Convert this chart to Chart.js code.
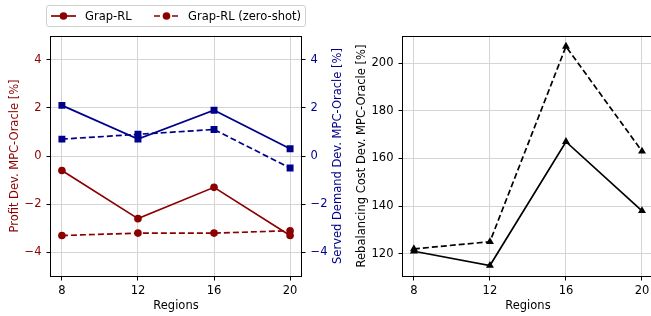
<!DOCTYPE html>
<html>
<head>
<meta charset="utf-8">
<script src="https://cdn.jsdelivr.net/npm/chart.js@4.4.0/dist/chart.umd.min.js"></script>
<style>
  html, body { margin: 0; padding: 0; background: #fff; }
  body { width: 651px; height: 316px; overflow: hidden; position: relative; font-family: "DejaVu Sans", sans-serif; }
  #left { position: absolute; left: 0; top: 0; }
  #right { position: absolute; left: 345px; top: 0; }
  .legend { position: absolute; left: 46px; top: 5px; width: 258px; height: 20px; border: 1px solid #d0d0d0; border-radius: 3px; background: rgba(255,255,255,0.8); font-size: 11.5px; color: #000; z-index: 2; }
  .legend .item { position: absolute; top: 0; height: 20px; line-height: 20px; white-space: nowrap; }
  .legend svg { position: absolute; top: 5px; }
</style>
</head>
<body>
<canvas id="left" width="345" height="316"></canvas>
<canvas id="right" width="330" height="316"></canvas>
<div class="legend">
  <svg style="left:4px" width="25" height="10"><line x1="0" y1="5" x2="25" y2="5" stroke="#8b0000" stroke-width="1.7"/><circle cx="12.5" cy="5" r="3.8" fill="#8b0000"/></svg>
  <span class="item" style="left:38px">Grap-RL</span>
  <svg style="left:107px" width="25" height="10"><line x1="0" y1="5" x2="25" y2="5" stroke="#8b0000" stroke-width="1.7" stroke-dasharray="6,3"/><circle cx="12.5" cy="5" r="3.8" fill="#8b0000"/></svg>
  <span class="item" style="left:141px">Grap-RL (zero-shot)</span>
</div>
<script>
// ---- data ----
const regions = [8, 12, 16, 20];
const profitRL = [-0.6, -2.6, -1.3, -3.3];
const profitZS = [-3.3, -3.2, -3.2, -3.1];
const servedRL = [2.1, 0.7, 1.9, 0.3];
const servedZS = [0.7, 0.9, 1.1, -0.5];
const rebalRL = [121, 115, 167, 138];
const rebalZS = [122, 125, 207, 163];
const regionTicks = [8, 12, 16, 20];
const devTicks = [-4, -2, 0, 2, 4];
const rebalTicks = [120, 140, 160, 180, 200];

const RED = '#8b0000';
const BLUE = '#00008b';
const FONT = { family: '"DejaVu Sans", sans-serif', size: 11.5 };
const GRID = '#d4d4d4';

const pts = arr => regions.map((x, i) => ({ x, y: arr[i] }));
const minus = v => String(v).replace('-', '\u2212');
const fixTicks = list => s => { s.ticks = list.map(v => ({ value: v })); };

function series(label, arr, color, style, dashed, r) {
  return {
    label, data: pts(arr),
    borderColor: color, backgroundColor: color,
    borderWidth: 1.7, borderDash: dashed ? [6, 3] : [],
    pointStyle: style, pointRadius: r, pointHoverRadius: r,
    pointBorderWidth: 0, tension: 0
  };
}

// black frame around the plot area (matplotlib spines)
const frame = {
  id: 'frame',
  afterDatasetsDraw(chart) {
    const a = chart.chartArea, ctx = chart.ctx;
    ctx.save();
    ctx.strokeStyle = '#000';
    ctx.lineWidth = 1;
    ctx.strokeRect(Math.round(a.left) - 0.5, Math.round(a.top) + 0.5,
      Math.round(a.right - a.left), Math.round(a.bottom - a.top) - 1);
    ctx.restore();
  }
};

// right-hand axis title, rotated to read bottom-to-top like matplotlib
const rightTitle = {
  id: 'rightTitle',
  afterDraw(chart) {
    const a = chart.chartArea, ctx = chart.ctx;
    ctx.save();
    ctx.translate(338, (a.top + a.bottom) / 2);
    ctx.rotate(-Math.PI / 2);
    ctx.font = `${FONT.size}px ${FONT.family}`;
    ctx.fillStyle = BLUE;
    ctx.textAlign = 'center';
    ctx.textBaseline = 'middle';
    ctx.fillText('Served Demand Dev. MPC-Oracle [%]', 0, 0);
    ctx.restore();
  }
};

function xScale() {
  return {
    type: 'linear', min: 7.4, max: 20.6,
    afterBuildTicks: fixTicks(regionTicks),
    afterFit: s => { s.height = 39.5; },
    ticks: { font: FONT, color: '#000', padding: 4 },
    grid: { color: GRID, lineWidth: 1, tickLength: 4, tickColor: '#000' },
    border: { display: false },
    title: { display: true, text: 'Regions', font: FONT, color: '#000', padding: { top: 0, bottom: 3.5 } }
  };
}

new Chart(document.getElementById('left'), {
  type: 'line',
  data: {
    datasets: [
      Object.assign(series('Served (zero-shot)', servedZS, BLUE, 'rect', true, 4.9), { yAxisID: 'y2' }),
      Object.assign(series('Served', servedRL, BLUE, 'rect', false, 4.9), { yAxisID: 'y2' }),
      Object.assign(series('Grap-RL (zero-shot)', profitZS, RED, 'circle', true, 3.8), { yAxisID: 'y' }),
      Object.assign(series('Grap-RL', profitRL, RED, 'circle', false, 3.8), { yAxisID: 'y' })
    ]
  },
  options: {
    responsive: false, animation: false,
    layout: { padding: { top: 35.5, left: 0, right: 0, bottom: 0 } },
    plugins: { legend: { display: false }, tooltip: { enabled: false } },
    scales: {
      x: xScale(),
      y: {
        position: 'left', min: -5, max: 5,
        afterBuildTicks: fixTicks(devTicks),
        afterFit: s => { s.width = 50.5; },
        ticks: { font: FONT, color: RED, padding: 5, callback: minus },
        grid: { color: GRID, lineWidth: 1, tickLength: 4, tickColor: '#000' },
        border: { display: false },
        title: { display: true, text: 'Profit Dev. MPC-Oracle [%]', font: FONT, color: RED, padding: { top: 8 } }
      },
      y2: {
        position: 'right', min: -5, max: 5,
        afterBuildTicks: fixTicks(devTicks),
        afterFit: s => { s.width = 43.5; },
        ticks: { font: FONT, color: BLUE, padding: 5, callback: minus },
        grid: { drawOnChartArea: false, tickLength: 4, tickColor: '#000' },
        border: { display: false }
      }
    }
  },
  plugins: [frame, rightTitle]
});

new Chart(document.getElementById('right'), {
  type: 'line',
  data: {
    datasets: [
      series('Grap-RL (zero-shot)', rebalZS, '#000', 'triangle', true, 4.6),
      series('Grap-RL', rebalRL, '#000', 'triangle', false, 4.6)
    ]
  },
  options: {
    responsive: false, animation: false,
    layout: { padding: { top: 35.5, left: 0, right: 21.6, bottom: 0 } },
    plugins: { legend: { display: false }, tooltip: { enabled: false } },
    scales: {
      x: xScale(),
      y: {
        position: 'left', min: 110.4, max: 211.6,
        afterBuildTicks: fixTicks(rebalTicks),
        afterFit: s => { s.width = 57.5; },
        ticks: { font: FONT, color: '#000', padding: 5 },
        grid: { color: GRID, lineWidth: 1, tickLength: 4, tickColor: '#000' },
        border: { display: false },
        title: { display: true, text: 'Rebalancing Cost Dev. MPC-Oracle [%]', font: FONT, color: '#000', padding: { top: 10 } }
      }
    }
  },
  plugins: [frame]
});
</script>
</body>
</html>
